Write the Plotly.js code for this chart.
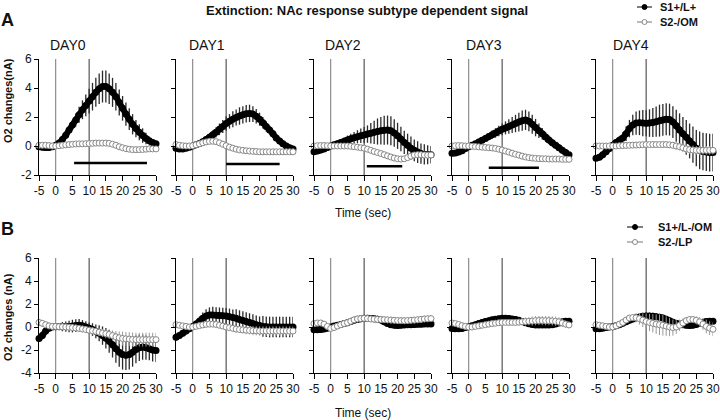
<!DOCTYPE html>
<html><head><meta charset="utf-8">
<script src="https://cdn.plot.ly/plotly-3.0.1.min.js"></script>
<style>html,body{margin:0;padding:0;background:#fff}#chart{width:720px;height:420px}</style>
</head><body><div id="chart"></div>
<script>
// ---------- DATA ----------
const time = [-5,-4,-3,-2,-1,0,1,2,3,4,5,6,7,8,9,10,11,12,13,14,15,16,17,18,19,20,21,22,23,24,25,26,27,28,29,30];
const dayLabels = ['DAY0','DAY1','DAY2','DAY3','DAY4'];
const legendA = ['S1+/L+','S2-/OM'];
const legendB = ['S1+/L-/OM','S2-/LP'];
const xTicks = [-5,0,5,10,15,20,25,30];
const yTicksA = [-2,0,2,4,6];
const yTicksB = [-4,-2,0,2,4,6];
const eventTimes = [0,10];
const chartTitle = 'Extinction: NAc response subtype dependent signal';
const yTitleA = 'O2 changes(nA)';
const yTitleB = 'O2 changes (nA)';
const xTitle = 'Time (sec)';

// Panel A (S1+/L+ = black, S2-/OM = white)
const a0s1  = [-0.05,-0.08,-0.1,-0.1,-0.05,0.05, 0.2,0.45,0.75,1.1,1.45,1.8,2.15,2.5,2.8,3.1, 3.4,3.7,3.95,4.1,4.1,3.95,3.7,3.4,3.0,2.6, 2.2,1.85,1.5,1.2,0.95,0.72,0.52,0.36,0.24,0.15];
const a0s1e = [0.05,0.05,0.05,0.05,0.05,0.05, 0.1,0.15,0.2,0.3,0.35,0.45,0.55,0.65,0.75,0.85, 0.95,1.0,1.05,1.1,1.1,1.05,1.0,0.95,0.9,0.85, 0.8,0.75,0.7,0.6,0.55,0.5,0.4,0.3,0.25,0.2];
const a0s2  = [0.05,0.05,0.05,0.03,0.0,0.0, 0.02,0.05,0.08,0.1,0.12,0.14,0.15,0.15,0.16,0.17, 0.18,0.2,0.2,0.2,0.2,0.18,0.12,0.05,-0.05,-0.12, -0.18,-0.22,-0.25,-0.25,-0.25,-0.24,-0.22,-0.2,-0.2,-0.2];
const a0s2e = [0.1,0.1,0.1,0.1,0.1,0.1, 0.1,0.1,0.1,0.12,0.12,0.15,0.15,0.15,0.15,0.15, 0.15,0.15,0.15,0.15,0.15,0.15,0.15,0.15,0.15,0.15, 0.12,0.12,0.12,0.12,0.12,0.12,0.1,0.1,0.1,0.1];

const a1s1  = [-0.15,-0.2,-0.2,-0.15,-0.08,0.0, 0.08,0.18,0.3,0.45,0.6,0.78,0.95,1.15,1.35,1.55, 1.7,1.85,1.97,2.07,2.15,2.22,2.25,2.2,2.05,1.85, 1.6,1.35,1.1,0.85,0.55,0.35,0.15,0.0,-0.12,-0.2];
const a1s1e = [0.05,0.05,0.05,0.05,0.05,0.05, 0.08,0.1,0.15,0.2,0.25,0.3,0.35,0.4,0.45,0.5, 0.5,0.55,0.55,0.6,0.6,0.6,0.6,0.55,0.5,0.45, 0.4,0.35,0.3,0.25,0.2,0.15,0.12,0.1,0.08,0.05];
const a1s2  = [0.1,0.05,0.02,0.0,0.0,0.02, 0.08,0.15,0.22,0.28,0.32,0.33,0.3,0.22,0.12,0.02, -0.08,-0.15,-0.22,-0.27,-0.3,-0.33,-0.35,-0.37,-0.38,-0.4, -0.4,-0.4,-0.4,-0.4,-0.4,-0.4,-0.4,-0.4,-0.4,-0.4];
const a1s2e = [0.08,0.08,0.08,0.08,0.08,0.08, 0.08,0.08,0.08,0.08,0.08,0.08,0.08,0.08,0.08,0.08, 0.08,0.08,0.08,0.08,0.08,0.08,0.08,0.08,0.08,0.08, 0.08,0.08,0.08,0.08,0.08,0.08,0.08,0.08,0.08,0.08];

const a2s1  = [-0.4,-0.35,-0.28,-0.2,-0.1,0.0, 0.08,0.16,0.25,0.33,0.42,0.5,0.57,0.64,0.7,0.76, 0.82,0.88,0.94,1.0,1.05,1.09,1.1,1.05,0.9,0.7, 0.48,0.25,0.05,-0.15,-0.3,-0.42,-0.52,-0.58,-0.6,-0.6];
const a2s1e = [0.05,0.05,0.05,0.05,0.05,0.05, 0.1,0.15,0.2,0.25,0.3,0.35,0.4,0.45,0.5,0.55, 0.6,0.7,0.8,0.9,0.95,1.0,1.0,1.0,0.95,0.9, 0.85,0.8,0.8,0.8,0.75,0.75,0.7,0.7,0.65,0.6];
const a2s2  = [0.0,0.02,0.03,0.03,0.02,0.0, 0.0,0.0,0.0,0.0,0.0,-0.02,-0.05,-0.08,-0.12,-0.15, -0.22,-0.3,-0.38,-0.45,-0.52,-0.6,-0.68,-0.76,-0.83,-0.88, -0.9,-0.88,-0.8,-0.7,-0.62,-0.6,-0.6,-0.62,-0.63,-0.62];
const a2s2e = [0.1,0.1,0.1,0.1,0.1,0.1, 0.1,0.1,0.1,0.1,0.1,0.1,0.1,0.1,0.1,0.1, 0.12,0.12,0.12,0.12,0.12,0.12,0.12,0.12,0.12,0.12, 0.12,0.12,0.12,0.12,0.12,0.12,0.12,0.12,0.12,0.12];

const a3s1  = [-0.5,-0.48,-0.42,-0.32,-0.18,-0.05, 0.05,0.15,0.27,0.4,0.52,0.65,0.78,0.9,1.03,1.15, 1.25,1.35,1.45,1.55,1.65,1.75,1.8,1.7,1.5,1.27, 1.05,0.85,0.62,0.42,0.22,0.05,-0.12,-0.3,-0.45,-0.6];
const a3s1e = [0.03,0.03,0.03,0.03,0.03,0.03, 0.05,0.08,0.1,0.15,0.2,0.25,0.3,0.33,0.36,0.4, 0.45,0.5,0.55,0.6,0.65,0.7,0.7,0.68,0.65,0.6, 0.5,0.4,0.35,0.3,0.25,0.2,0.15,0.12,0.1,0.08];
const a3s2  = [0.0,0.02,0.03,0.02,0.0,0.0, -0.02,-0.04,-0.06,-0.08,-0.1,-0.12,-0.14,-0.17,-0.22,-0.28, -0.35,-0.42,-0.5,-0.57,-0.63,-0.7,-0.76,-0.8,-0.83,-0.85, -0.87,-0.88,-0.88,-0.9,-0.9,-0.9,-0.9,-0.92,-0.92,-0.92];
const a3s2e = [0.12,0.12,0.12,0.12,0.12,0.12, 0.12,0.12,0.12,0.12,0.12,0.12,0.12,0.12,0.12,0.12, 0.12,0.12,0.12,0.12,0.12,0.12,0.12,0.12,0.12,0.12, 0.12,0.12,0.12,0.12,0.12,0.12,0.12,0.12,0.12,0.12];

const a4s1  = [-0.85,-0.78,-0.6,-0.4,-0.18,0.05, 0.25,0.4,0.55,0.85,1.2,1.45,1.58,1.6,1.58,1.57, 1.58,1.62,1.68,1.75,1.8,1.85,1.82,1.65,1.4,1.1, 0.85,0.6,0.35,0.1,-0.15,-0.3,-0.38,-0.42,-0.45,-0.45];
const a4s1e = [0.05,0.05,0.08,0.1,0.12,0.15, 0.2,0.3,0.4,0.5,0.6,0.7,0.8,0.85,0.9,0.9, 0.95,1.0,1.05,1.1,1.1,1.1,1.1,1.1,1.1,1.15, 1.15,1.2,1.2,1.25,1.25,1.3,1.3,1.3,1.3,1.3];
const a4s2  = [0.0,0.0,0.0,0.0,0.0,0.0, 0.0,0.02,0.03,0.04,0.05,0.06,0.07,0.08,0.09,0.1, 0.1,0.1,0.1,0.1,0.1,0.1,0.08,0.05,0.0,-0.05, -0.12,-0.2,-0.25,-0.28,-0.3,-0.3,-0.3,-0.3,-0.3,-0.3];
const a4s2e = [0.1,0.1,0.1,0.1,0.1,0.1, 0.1,0.1,0.1,0.1,0.1,0.1,0.1,0.1,0.1,0.1, 0.1,0.1,0.12,0.12,0.15,0.15,0.2,0.2,0.25,0.25, 0.3,0.3,0.3,0.3,0.3,0.3,0.3,0.3,0.3,0.3];

// Panel B (S1+/L-/OM = black, S2-/LP = white)
const b0s1  = [-1.0,-0.75,-0.35,-0.1,0.0,0.02, 0.03,0.03,0.03,0.05,0.08,0.12,0.15,0.1,0.0,-0.1, -0.22,-0.38,-0.55,-0.75,-0.98,-1.25,-1.55,-1.9,-2.2,-2.4, -2.45,-2.4,-2.2,-1.95,-1.8,-1.75,-1.8,-1.9,-2.0,-2.05];
const b0s1e = [0.3,0.3,0.25,0.2,0.2,0.25, 0.3,0.4,0.45,0.5,0.55,0.55,0.55,0.5,0.5,0.5, 0.55,0.6,0.7,0.8,0.9,1.0,1.1,1.2,1.25,1.3, 1.3,1.3,1.25,1.2,1.15,1.1,1.05,1.0,1.0,1.0];
const b0s2  = [0.4,0.32,0.2,0.1,0.05,0.05, 0.03,0.02,0.0,-0.02,-0.05,-0.08,-0.12,-0.17,-0.22,-0.28, -0.33,-0.38,-0.45,-0.52,-0.58,-0.65,-0.75,-0.85,-0.93,-1.0, -1.03,-1.05,-1.08,-1.1,-1.1,-1.1,-1.1,-1.1,-1.1,-1.1];
const b0s2e = [0.3,0.3,0.3,0.3,0.3,0.3, 0.3,0.3,0.3,0.3,0.3,0.3,0.3,0.3,0.3,0.3, 0.3,0.3,0.35,0.35,0.4,0.4,0.45,0.5,0.55,0.6, 0.6,0.6,0.6,0.6,0.6,0.6,0.6,0.6,0.6,0.6];

const b1s1  = [-0.9,-0.75,-0.55,-0.35,-0.15,0.05, 0.25,0.5,0.75,0.95,1.05,1.05,1.02,1.0,0.98,0.95, 0.9,0.82,0.75,0.65,0.57,0.48,0.4,0.3,0.2,0.12, 0.05,0.02,0.0,0.0,0.0,0.0,0.0,0.0,0.0,0.0];
const b1s1e = [0.3,0.2,0.2,0.2,0.2,0.2, 0.3,0.4,0.5,0.6,0.65,0.7,0.7,0.7,0.7,0.7, 0.7,0.7,0.8,0.8,0.8,0.8,0.8,0.8,0.8,0.8, 0.9,0.9,0.9,0.9,0.9,0.9,0.9,0.9,0.9,0.9];
const b1s2  = [0.2,0.15,0.1,0.05,0.0,0.0, 0.05,0.12,0.18,0.23,0.25,0.25,0.22,0.15,0.08,0.0, -0.06,-0.12,-0.18,-0.22,-0.25,-0.28,-0.3,-0.32,-0.33,-0.35, -0.35,-0.35,-0.35,-0.35,-0.35,-0.35,-0.35,-0.35,-0.35,-0.35];
const b1s2e = [0.2,0.2,0.2,0.2,0.2,0.2, 0.2,0.2,0.2,0.2,0.2,0.2,0.2,0.2,0.2,0.2, 0.25,0.25,0.3,0.3,0.3,0.35,0.35,0.4,0.4,0.4, 0.4,0.4,0.4,0.4,0.4,0.4,0.4,0.4,0.4,0.4];

const b2s1  = [-0.25,-0.25,-0.22,-0.18,-0.1,0.0, 0.08,0.15,0.22,0.3,0.38,0.48,0.58,0.66,0.72,0.75, 0.75,0.74,0.72,0.68,0.6,0.45,0.3,0.2,0.15,0.12, 0.15,0.18,0.2,0.2,0.22,0.23,0.24,0.25,0.25,0.25];
const b2s1e = [0.2,0.2,0.2,0.2,0.2,0.2, 0.2,0.2,0.25,0.25,0.25,0.3,0.3,0.3,0.3,0.3, 0.3,0.3,0.3,0.3,0.3,0.3,0.25,0.25,0.25,0.25, 0.25,0.25,0.25,0.25,0.25,0.25,0.25,0.25,0.25,0.25];
const b2s2  = [0.3,0.35,0.35,0.25,0.05,-0.12, -0.05,0.08,0.2,0.3,0.38,0.5,0.62,0.7,0.73,0.75, 0.73,0.7,0.68,0.66,0.65,0.64,0.62,0.6,0.58,0.56, 0.55,0.55,0.56,0.58,0.6,0.63,0.66,0.7,0.72,0.73];
const b2s2e = [0.25,0.25,0.25,0.25,0.25,0.25, 0.25,0.25,0.25,0.3,0.3,0.3,0.3,0.3,0.3,0.3, 0.3,0.3,0.3,0.3,0.3,0.3,0.3,0.3,0.3,0.3, 0.3,0.3,0.3,0.3,0.3,0.3,0.3,0.3,0.3,0.3];

const b3s1  = [-0.12,-0.15,-0.15,-0.12,-0.05,0.02, 0.1,0.2,0.3,0.4,0.48,0.55,0.62,0.68,0.72,0.75, 0.75,0.73,0.7,0.65,0.58,0.48,0.38,0.28,0.22,0.18, 0.17,0.17,0.18,0.18,0.2,0.25,0.35,0.45,0.5,0.5];
const b3s1e = [0.15,0.15,0.15,0.15,0.15,0.15, 0.15,0.15,0.15,0.15,0.15,0.15,0.15,0.15,0.15,0.15, 0.15,0.15,0.15,0.15,0.15,0.15,0.15,0.15,0.15,0.15, 0.15,0.15,0.15,0.15,0.15,0.15,0.15,0.15,0.15,0.15];
const b3s2  = [0.35,0.3,0.22,0.12,0.05,0.0, 0.0,0.05,0.1,0.15,0.2,0.25,0.3,0.33,0.37,0.4, 0.4,0.4,0.4,0.4,0.42,0.45,0.48,0.5,0.52,0.55, 0.56,0.56,0.55,0.55,0.53,0.5,0.45,0.35,0.25,0.18];
const b3s2e = [0.15,0.15,0.15,0.15,0.15,0.15, 0.15,0.15,0.15,0.15,0.15,0.15,0.15,0.15,0.15,0.15, 0.2,0.2,0.25,0.25,0.3,0.3,0.35,0.35,0.4,0.4, 0.4,0.4,0.4,0.4,0.4,0.4,0.4,0.35,0.3,0.3];

const b4s1  = [-0.15,-0.15,-0.1,-0.05,0.0,0.02, 0.1,0.2,0.32,0.45,0.58,0.7,0.8,0.88,0.93,0.95, 0.95,0.93,0.9,0.85,0.78,0.68,0.55,0.42,0.32,0.25, 0.2,0.15,0.12,0.15,0.22,0.32,0.42,0.48,0.5,0.5];
const b4s1e = [0.15,0.15,0.15,0.15,0.15,0.15, 0.2,0.2,0.25,0.25,0.3,0.3,0.3,0.3,0.3,0.3, 0.3,0.3,0.3,0.3,0.3,0.3,0.3,0.3,0.25,0.25, 0.25,0.25,0.2,0.2,0.2,0.2,0.2,0.2,0.2,0.2];
const b4s2  = [0.2,0.15,0.1,0.05,0.0,0.0, 0.1,0.25,0.4,0.6,0.78,0.82,0.8,0.72,0.6,0.48, 0.4,0.32,0.25,0.2,0.15,0.08,0.0,-0.05,0.0,0.15, 0.35,0.55,0.65,0.65,0.58,0.45,0.25,0.05,-0.1,-0.2];
const b4s2e = [0.2,0.2,0.2,0.2,0.2,0.2, 0.2,0.2,0.2,0.2,0.2,0.3,0.4,0.5,0.6,0.7, 0.75,0.8,0.85,0.9,0.9,0.85,0.8,0.7,0.6,0.5, 0.4,0.3,0.3,0.3,0.35,0.4,0.5,0.6,0.6,0.6];

// Significance bars (panel A)
const sigStartA = [5.5, 10, 10.8, 6, null];
const sigEndA   = [27.3, 26, 21.4, 21, null];
const sigYA     = [-1.17, -1.24, -1.4, -1.5, null];

const seriesA = [[a0s1,a0s1e,a0s2,a0s2e],[a1s1,a1s1e,a1s2,a1s2e],[a2s1,a2s1e,a2s2,a2s2e],[a3s1,a3s1e,a3s2,a3s2e],[a4s1,a4s1e,a4s2,a4s2e]];
const seriesB = [[b0s1,b0s1e,b0s2,b0s2e],[b1s1,b1s1e,b1s2,b1s2e],[b2s1,b2s1e,b2s2,b2s2e],[b3s1,b3s1e,b3s2,b3s2e],[b4s1,b4s1e,b4s2,b4s2e]];

// ---------- LAYOUT ----------
const W = 720, H = 420;
const FONT = 'Liberation Sans, Arial, sans-serif';
const colPx = [[39,156],[176,293],[314,431],[452,569],[596,713]];
const rowPx = [[59,175],[258,373]];
const fx = p => p / W;
const fy = p => 1 - p / H;

const traces = [];
const shapes = [];
const annotations = [];
const layout = {
  width: W, height: H,
  margin: {l:0, r:0, t:0, b:0},
  paper_bgcolor: '#fff', plot_bgcolor: 'rgba(0,0,0,0)',
  showlegend: false,
  font: {family: FONT, color: '#111'}
};

for (let r = 0; r < 2; r++) {
  for (let c = 0; c < 5; c++) {
    const idx = r * 5 + c + 1;
    const s = idx === 1 ? '' : String(idx);
    layout['xaxis' + s] = {
      domain: [fx(colPx[c][0]), fx(colPx[c][1])],
      range: [-5, 30], anchor: 'y' + s,
      tickvals: xTicks, ticktext: xTicks.map(v => String(v)),
      ticks: 'outside', ticklen: 5, tickwidth: 1, tickcolor: '#000',
      showline: true, linecolor: '#000', linewidth: 1,
      showgrid: false, zeroline: false, fixedrange: true,
      tickfont: {family: FONT, size: 12, color: '#111'}
    };
    const yv = r === 0 ? yTicksA : yTicksB;
    layout['yaxis' + s] = {
      domain: [fy(rowPx[r][1]), fy(rowPx[r][0])],
      range: r === 0 ? [-2, 6] : [-4, 6], anchor: 'x' + s,
      tickvals: yv, ticktext: yv.map(v => String(v)),
      ticks: 'outside', ticklen: 4, tickwidth: 1, tickcolor: '#000',
      showline: true, linecolor: '#000', linewidth: 1,
      showgrid: false, zeroline: false, fixedrange: true,
      showticklabels: c === 0,
      tickfont: {family: FONT, size: 12, color: '#111'}
    };
    eventTimes.forEach((t, k) => {
      shapes.push({type: 'line', xref: 'x' + s, yref: 'y' + s + ' domain', x0: t, x1: t, y0: 0, y1: 1,
        line: {color: k === 0 ? '#777' : '#333', width: 1}, layer: 'below'});
    });
    const d = (r === 0 ? seriesA : seriesB)[c];
    traces.push({
      x: time, y: d[0], xaxis: 'x' + s, yaxis: 'y' + s, mode: 'lines+markers', cliponaxis: false,
      line: {color: '#000', width: 6, shape: 'spline', smoothing: 0.6},
      marker: {symbol: 'circle', size: 7, color: '#000'},
      error_y: {type: 'data', array: d[1], visible: true, color: '#2a2a2a', thickness: 1.3, width: 0}
    });
    traces.push({
      x: time, y: d[2], xaxis: 'x' + s, yaxis: 'y' + s, mode: 'markers', cliponaxis: false,
      marker: {symbol: 'circle', size: 6, color: '#fff', line: {color: '#888', width: 1}},
      error_y: {type: 'data', array: d[3], visible: true, color: '#999', thickness: 1, width: 0}
    });
    if (r === 0 && sigStartA[c] !== null) {
      traces.push({
        x: [sigStartA[c], sigEndA[c]], y: [sigYA[c], sigYA[c]], xaxis: 'x' + s, yaxis: 'y' + s,
        mode: 'lines', line: {color: '#000', width: 2.5}
      });
    }
  }
}

function ann(text, px, py, size, bold, extra) {
  annotations.push(Object.assign({
    text: text, xref: 'paper', yref: 'paper', x: fx(px), y: fy(py),
    xanchor: 'center', yanchor: 'middle', showarrow: false,
    font: {family: FONT, size: size, color: '#111', weight: bold ? 'bold' : 'normal'}
  }, extra || {}));
}

ann(chartTitle, 367, 10, 13, true);
ann('A', 7, 20, 18, true);
ann('B', 7, 229, 18, true);
const dayX = [68, 207, 343, 484, 631];
dayLabels.forEach((t, i) => ann(t, dayX[i], 45, 14, false));
ann(yTitleA, 8, 101, 11, true, {textangle: -90});
ann(yTitleB, 8, 317, 11, true, {textangle: -90});
ann(xTitle, 363, 213, 12, false);
ann(xTitle, 363, 413, 12, false);

// Legends
function legendRow(label, filled, x0, x1, tx, py) {
  shapes.push({type: 'line', xref: 'paper', yref: 'paper', x0: fx(x0), x1: fx(x1), y0: fy(py), y1: fy(py),
    line: {color: filled ? '#000' : '#777', width: 1}});
  const cx = fx((x0 + x1) / 2), cy = fy(py);
  shapes.push({type: 'circle', xref: 'paper', yref: 'paper', xsizemode: 'pixel', ysizemode: 'pixel',
    xanchor: cx, yanchor: cy, x0: -2.5, x1: 2.5, y0: -2.5, y1: 2.5,
    fillcolor: filled ? '#000' : '#fff', line: {color: filled ? '#000' : '#888', width: 1}});
  ann(label, tx, py, 11, true, {xanchor: 'left'});
}
legendRow(legendA[0], true, 637, 652, 658, 7);
legendRow(legendA[1], false, 637, 652, 658, 22);
legendRow(legendB[0], true, 627, 643, 656, 227);
legendRow(legendB[1], false, 627, 643, 656, 242);

layout.shapes = shapes;
layout.annotations = annotations;

Plotly.newPlot('chart', traces, layout, {displayModeBar: false, staticPlot: true});
</script>
</body></html>
